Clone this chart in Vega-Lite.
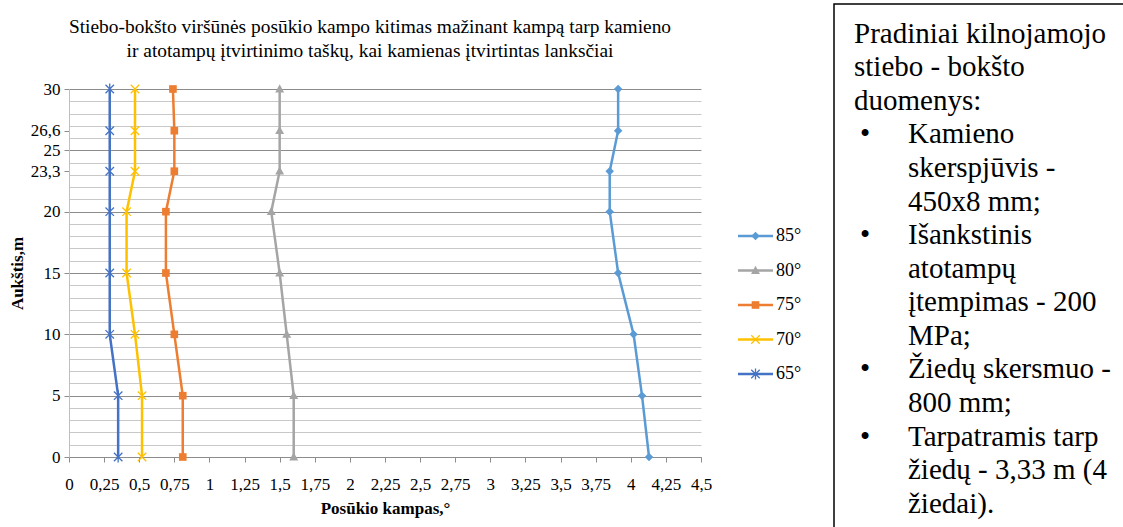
{
  "$schema": "https://vega.github.io/schema/vega-lite/v6.json",
  "padding": {"left": 8, "top": 3, "right": 0, "bottom": 0},
  "background": "white",
  "config": {"font": "Liberation Serif", "view": {"stroke": null}, "concat": {"spacing": 24}},
  "datasets": {
    "angles": [
      {"s": "85°", "h": 0, "a": 4.13}, {"s": "85°", "h": 5, "a": 4.08}, {"s": "85°", "h": 10, "a": 4.02}, {"s": "85°", "h": 15, "a": 3.91},
      {"s": "85°", "h": 20, "a": 3.85}, {"s": "85°", "h": 23.3, "a": 3.85}, {"s": "85°", "h": 26.6, "a": 3.91}, {"s": "85°", "h": 30, "a": 3.91},
      {"s": "80°", "h": 0, "a": 1.60}, {"s": "80°", "h": 5, "a": 1.60}, {"s": "80°", "h": 10, "a": 1.55}, {"s": "80°", "h": 15, "a": 1.50},
      {"s": "80°", "h": 20, "a": 1.44}, {"s": "80°", "h": 23.3, "a": 1.50}, {"s": "80°", "h": 26.6, "a": 1.50}, {"s": "80°", "h": 30, "a": 1.50},
      {"s": "75°", "h": 0, "a": 0.81}, {"s": "75°", "h": 5, "a": 0.81}, {"s": "75°", "h": 10, "a": 0.75}, {"s": "75°", "h": 15, "a": 0.69},
      {"s": "75°", "h": 20, "a": 0.69}, {"s": "75°", "h": 23.3, "a": 0.75}, {"s": "75°", "h": 26.6, "a": 0.75}, {"s": "75°", "h": 30, "a": 0.74},
      {"s": "70°", "h": 0, "a": 0.52}, {"s": "70°", "h": 5, "a": 0.52}, {"s": "70°", "h": 10, "a": 0.47}, {"s": "70°", "h": 15, "a": 0.41},
      {"s": "70°", "h": 20, "a": 0.41}, {"s": "70°", "h": 23.3, "a": 0.47}, {"s": "70°", "h": 26.6, "a": 0.47}, {"s": "70°", "h": 30, "a": 0.47},
      {"s": "65°", "h": 0, "a": 0.35}, {"s": "65°", "h": 5, "a": 0.35}, {"s": "65°", "h": 10, "a": 0.29}, {"s": "65°", "h": 15, "a": 0.29},
      {"s": "65°", "h": 20, "a": 0.29}, {"s": "65°", "h": 23.3, "a": 0.29}, {"s": "65°", "h": 26.6, "a": 0.29}, {"s": "65°", "h": 30, "a": 0.29}
    ],
    "notes": [
      {"n": 1, "lvl": 0, "t": "Pradiniai kilnojamojo"},
      {"n": 2, "lvl": 0, "t": "stiebo - bokšto"},
      {"n": 3, "lvl": 0, "t": "duomenys:"},
      {"n": 4, "lvl": 1, "t": "Kamieno", "b": "•"},
      {"n": 5, "lvl": 1, "t": "skerspjūvis -"},
      {"n": 6, "lvl": 1, "t": "450x8 mm;"},
      {"n": 7, "lvl": 1, "t": "Išankstinis", "b": "•"},
      {"n": 8, "lvl": 1, "t": "atotampų"},
      {"n": 9, "lvl": 1, "t": "įtempimas - 200"},
      {"n": 10, "lvl": 1, "t": "MPa;"},
      {"n": 11, "lvl": 1, "t": "Žiedų skersmuo -", "b": "•"},
      {"n": 12, "lvl": 1, "t": "800 mm;"},
      {"n": 13, "lvl": 1, "t": "Tarpatramis tarp", "b": "•"},
      {"n": 14, "lvl": 1, "t": "žiedų - 3,33 m (4"},
      {"n": 15, "lvl": 1, "t": "žiedai)."}
    ]
  },
  "hconcat": [
    {
      "width": 632,
      "height": 453,
      "title": {
        "text": ["Stiebo-bokšto viršūnės posūkio kampo kitimas mažinant kampą tarp kamieno", "ir atotampų įtvirtinimo taškų, kai kamienas įtvirtintas lanksčiai"],
        "font": "Liberation Serif",
        "fontSize": 19.4,
        "fontWeight": "normal",
        "lineHeight": 24,
        "color": "black",
        "anchor": "middle",
        "frame": "group",
        "dx": -15,
        "offset": -57
      },
      "data": {"name": "angles"},
      "layer": [
        {
          "mark": {"type": "line", "strokeWidth": 2.5},
          "encoding": {
            "x": {
              "field": "a", "type": "quantitative",
              "scale": {"domain": [0, 4.5], "nice": false, "zero": false},
              "axis": {
                "title": "Posūkio kampas,°", "titleFont": "Liberation Serif", "titleFontSize": 17, "titleFontWeight": "bold", "titleColor": "black", "titlePadding": 8,
                "values": [0, 0.25, 0.5, 0.75, 1, 1.25, 1.5, 1.75, 2, 2.25, 2.5, 2.75, 3, 3.25, 3.5, 3.75, 4, 4.25, 4.5],
                "tickCount": 100,
                "labelExpr": "replace(toString(datum.value), '.', ',')",
                "labelFont": "Liberation Serif", "labelFontSize": 17, "labelColor": "black", "labelPadding": 14, "labelOverlap": false, "labelFlush": false,
                "grid": false, "tickColor": "#8c8c8c", "tickSize": 5, "domainColor": "#8c8c8c"
              }
            },
            "y": {
              "field": "h", "type": "quantitative",
              "scale": {"domain": [0, 30], "nice": false, "range": [453, 85]},
              "axis": {
                "title": "Aukštis,m", "titleFont": "Liberation Serif", "titleFontSize": 17, "titleFontWeight": "bold", "titleColor": "black", "titlePadding": 4,
                "values": [0, 1, 2, 3, 4, 5, 6, 7, 8, 9, 10, 11, 12, 13, 14, 15, 16, 17, 18, 19, 20, 21, 22, 23, 23.3, 24, 25, 26, 26.6, 27, 28, 29, 30],
                "tickCount": 100,
                "labelExpr": "(datum.value % 5 === 0 || datum.value % 1 !== 0) ? replace(toString(datum.value), '.', ',') : ''",
                "labelFont": "Liberation Serif", "labelFontSize": 17, "labelColor": "black", "labelPadding": 4, "labelOverlap": false,
                "grid": true,
                "gridColor": {"condition": {"test": "datum.value % 5 === 0", "value": "#8c8c8c"}, "value": "#c8c8c8"},
                "gridOpacity": {"condition": {"test": "datum.value % 1 !== 0", "value": 0}, "value": 1},
                "tickOpacity": {"condition": {"test": "datum.value % 5 === 0 || datum.value % 1 !== 0", "value": 1}, "value": 0},
                "tickColor": "#8c8c8c", "tickSize": 5, "domainColor": "#bfbfbf"
              }
            },
            "color": {
              "field": "s", "type": "nominal", "legend": null,
              "scale": {"domain": ["85°", "80°", "75°", "70°", "65°"], "range": ["#5B9BD5", "#A5A5A5", "#ED7D31", "#FFC000", "#4472C4"]}
            },
            "order": {"field": "h", "type": "quantitative"}
          }
        },
        {
          "transform": [{"filter": "datum.s === '85°' || datum.s === '80°' || datum.s === '75°'"}],
          "mark": {"type": "point", "filled": true, "size": 72, "opacity": 1},
          "encoding": {
            "x": {"field": "a", "type": "quantitative"},
            "y": {"field": "h", "type": "quantitative"},
            "color": {"field": "s", "type": "nominal", "legend": null},
            "shape": {
              "field": "s", "type": "nominal", "legend": null,
              "scale": {"domain": ["85°", "80°", "75°", "70°", "65°"], "range": ["M0,-1L1,0L0,1L-1,0Z", "M0,-1.1L1.05,0.8L-1.05,0.8Z", "M-0.9,-0.9H0.9V0.9H-0.9Z", "M-1,-1L1,1M-1,1L1,-1", "M-1,-1L1,1M-1,1L1,-1M0,-1.3V1.3"]}
            }
          }
        },
        {
          "transform": [{"filter": "datum.s === '70°' || datum.s === '65°'"}],
          "mark": {"type": "point", "filled": false, "size": 72, "strokeWidth": 1.3, "opacity": 1},
          "encoding": {
            "x": {"field": "a", "type": "quantitative"},
            "y": {"field": "h", "type": "quantitative"},
            "color": {"field": "s", "type": "nominal", "legend": null},
            "shape": {"field": "s", "type": "nominal", "legend": null}
          }
        }
      ]
    },
    {
      "width": 71,
      "height": 453,
      "data": {"name": "angles"},
      "transform": [{"filter": "datum.h === 0"}],
      "encoding": {
        "y": {"field": "s", "type": "nominal", "sort": ["85°", "80°", "75°", "70°", "65°"], "scale": {"type": "point", "range": [232, 370], "padding": 0}, "axis": null}
      },
      "layer": [
        {
          "mark": {"type": "rule", "strokeWidth": 2.5},
          "encoding": {
            "x": {"datum": 0, "type": "quantitative", "scale": {"domain": [0, 1], "range": [0, 35]}, "axis": null},
            "x2": {"datum": 1},
            "color": {"field": "s", "type": "nominal", "legend": null}
          }
        },
        {
          "transform": [{"filter": "datum.s === '85°' || datum.s === '80°' || datum.s === '75°'"}],
          "mark": {"type": "point", "filled": true, "size": 72, "opacity": 1},
          "encoding": {
            "x": {"datum": 0.5, "type": "quantitative"},
            "color": {"field": "s", "type": "nominal", "legend": null},
            "shape": {"field": "s", "type": "nominal", "legend": null}
          }
        },
        {
          "transform": [{"filter": "datum.s === '70°' || datum.s === '65°'"}],
          "mark": {"type": "point", "filled": false, "size": 72, "strokeWidth": 1.3, "opacity": 1},
          "encoding": {
            "x": {"datum": 0.5, "type": "quantitative"},
            "color": {"field": "s", "type": "nominal", "legend": null},
            "shape": {"field": "s", "type": "nominal", "legend": null}
          }
        },
        {
          "mark": {"type": "text", "align": "left", "baseline": "middle", "dx": 3, "font": "Liberation Serif", "fontSize": 18, "color": "black"},
          "encoding": {
            "x": {"datum": 1, "type": "quantitative"},
            "text": {"field": "s"}
          }
        }
      ]
    },
    {
      "width": 300,
      "height": 527,
      "view": {"stroke": "black", "strokeWidth": 1.5},
      "data": {"name": "notes"},
      "layer": [
        {
          "mark": {"type": "text", "align": "left", "baseline": "alphabetic", "font": "Liberation Serif", "fontSize": 29, "color": "black"},
          "encoding": {
            "x": {"field": "lvl", "type": "quantitative", "scale": {"domain": [0, 1], "range": [20, 74]}, "axis": null},
            "y": {"field": "n", "type": "ordinal", "scale": {"type": "point", "range": [38.7, 508.7], "padding": 0}, "axis": null},
            "text": {"field": "t"}
          }
        },
        {
          "transform": [{"filter": "datum.b"}],
          "mark": {"type": "text", "align": "left", "baseline": "alphabetic", "font": "Liberation Serif", "fontSize": 29, "color": "black", "dx": -48},
          "encoding": {
            "x": {"field": "lvl", "type": "quantitative"},
            "y": {"field": "n", "type": "ordinal"},
            "text": {"field": "b"}
          }
        }
      ]
    }
  ]
}
